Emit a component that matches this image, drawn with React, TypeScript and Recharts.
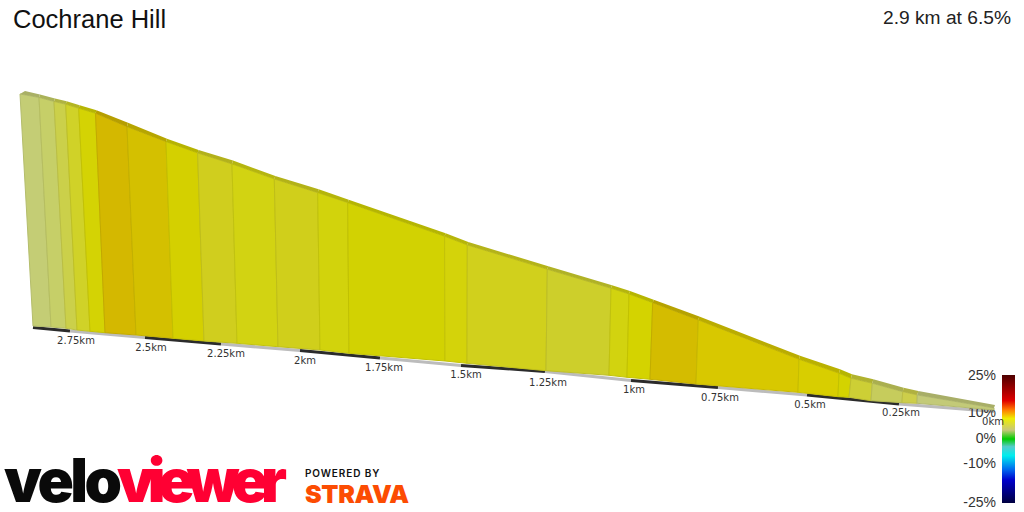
import { ScatterChart, Scatter, XAxis, YAxis, ReferenceArea } from 'recharts';

// profile stations, from the summit (left) down to the start (right)
const baseAcross = [33, 51, 66, 77, 90, 105, 136, 173, 204, 237, 278, 320, 349, 445, 467, 546, 609, 627, 650, 696, 798, 838, 849, 871, 902, 917, 994];
const baseDrop = [326, 327, 328.3, 330, 331.3, 332.7, 335, 338.3, 341, 343.3, 346.7, 350, 353.3, 361, 363.3, 370.7, 375.3, 377.3, 379.3, 384, 392.3, 396.7, 397.3, 400.7, 402.7, 403.3, 410];
const topAcross = [20, 39, 54, 65.7, 78.7, 95.5, 127, 166, 197.6, 232, 274.3, 317.7, 347.7, 444.6, 467.3, 547.3, 611, 629, 652.7, 698.3, 799, 839, 851, 872.3, 902.7, 917.3, 994];
const topDrop = [94, 97.5, 101.5, 104.3, 108.3, 113.3, 126.7, 141.7, 153, 164, 179, 192.7, 202.7, 236.3, 245, 269.3, 288.3, 294, 302.7, 320, 359.3, 373.3, 378.3, 383.3, 391.7, 395, 408];
const roofLift = [3, 3, 3, 3, 3, 3, 4, 3, 3, 3.5, 3, 3.5, 3, 3, 3, 3, 3, 3, 3, 3.5, 3.5, 4, 4, 4, 4, 4, 3];

const gradeColors = [
  '#c4cd75', '#c6cf68', '#cbd04a', '#d0d228', '#d4d304', '#d4b800', '#d4c000', '#d4d000', '#d0ce1e',
  '#d2d312', '#d0cf1b', '#d2d30c', '#d2d202', '#d4d30a', '#d1d01c', '#cdcf2b', '#d2d30f', '#d4d300',
  '#d4bc00', '#d8c800', '#d8ce00', '#d4d300', '#cdcf35', '#c6cc5c', '#cdce4a', '#c3ca78',
];

// road strip with a mark every 250 m
const roadAcross = [33, 70, 145, 221, 300, 380, 461, 545, 631, 718, 807, 899, 994];
const roadDrop = [327.5, 331, 337.5, 344, 350.5, 358, 365.5, 371.5, 380.5, 387.5, 395, 404, 411.5];

const kmLabels = ['2.75km', '2.5km', '2.25km', '2km', '1.75km', '1.5km', '1.25km', '1km', '0.75km', '0.5km', '0.25km', '0km'];
const kmLabelAcross = [76, 151, 226, 305, 384, 466, 548, 634, 720, 810, 901, 993];
const kmLabelDrop = [340, 347, 353, 360, 367, 374, 382, 389, 397, 404, 412, 421];

const scaleLabels = ['25%', '10%', '0%', '-10%', '-25%'];
const scaleDrop = [375, 412, 438, 463, 502];
const scaleStops = [
  [0, '#4d0000'], [0.2, '#e00000'], [0.27, '#ff7700'], [0.34, '#eeee00'], [0.43, '#c8c878'], [0.5, '#00cc00'],
  [0.56, '#55cccc'], [0.63, '#00eeee'], [0.74, '#0066ee'], [0.82, '#0000cc'], [1, '#000040'],
] as const;

const darken = (hex: string, k: number) => {
  const n = parseInt(hex.slice(1), 16);
  const c = [n >> 16, (n >> 8) & 255, n & 255].map((v) => Math.round(v * k));
  return `rgb(${c.join(',')})`;
};

const segments = gradeColors.map((fill, i) => ({
  fill,
  wall: [
    { x: baseAcross[i], y: baseDrop[i] },
    { x: topAcross[i], y: topDrop[i] },
    { x: topAcross[i + 1], y: topDrop[i + 1] },
    { x: baseAcross[i + 1], y: baseDrop[i + 1] },
  ],
  roof: [
    { x: topAcross[i], y: topDrop[i] },
    { x: topAcross[i] + (i === 0 ? 5 : 1), y: topDrop[i] - roofLift[i] },
    { x: topAcross[i + 1] + 1, y: topDrop[i + 1] - roofLift[i + 1] },
    { x: topAcross[i + 1], y: topDrop[i + 1] },
  ],
}));

const roadParts = roadAcross.slice(1).map((x, i) => ({
  color: i % 2 === 0 ? '#2b2b2b' : '#bcbcbc',
  points: [
    { x: roadAcross[i], y: roadDrop[i] },
    { x, y: roadDrop[i + 1] },
  ],
}));

const kmPoints = kmLabels.map((label, i) => ({ x: kmLabelAcross[i], y: kmLabelDrop[i], label }));
const scalePoints = scaleLabels.map((label, i) => ({ x: 996, y: scaleDrop[i], label }));

const noDot = () => <g />;

const KmText = (p: any) => (
  <text x={p.cx} y={p.cy} textAnchor="middle" dominantBaseline="central" fontFamily="DejaVu Sans" fontSize={10} fill="#333">
    {p.payload.label}
  </text>
);

const ScaleText = (p: any) => (
  <text x={p.cx} y={p.cy} textAnchor="end" dominantBaseline="central" fontFamily="Liberation Sans" fontSize={14} fill="#333">
    {p.payload.label}
  </text>
);

export default function App() {
  return (
    <div style={{ position: 'absolute', left: 0, top: 0, width: 1024, height: 512 }}>
      <ScatterChart width={1024} height={512} margin={{ top: 0, right: 0, bottom: 0, left: 0 }}>
        <defs>
          <linearGradient id="gradeScale" x1="0" y1="0" x2="0" y2="1">
            {scaleStops.map(([offset, color]) => (
              <stop key={offset} offset={offset} stopColor={color} />
            ))}
          </linearGradient>
        </defs>
        <XAxis type="number" dataKey="x" domain={[0, 1024]} hide />
        <YAxis type="number" dataKey="y" domain={[0, 512]} reversed hide />

        {roadParts.map((part, i) => (
          <Scatter
            key={`road-${i}`}
            data={part.points}
            shape={noDot}
            line={{ stroke: part.color, strokeWidth: 3 }}
            isAnimationActive={false}
          />
        ))}
        <Scatter data={scalePoints} shape={ScaleText} isAnimationActive={false} />
        <Scatter data={kmPoints} shape={KmText} isAnimationActive={false} />
        {segments.map((seg, i) => (
          <Scatter
            key={`wall-${i}`}
            data={seg.wall}
            shape={noDot}
            lineJointType="linearClosed"
            line={{ fill: seg.fill, stroke: darken(seg.fill, 0.92), strokeWidth: 1 }}
            isAnimationActive={false}
          />
        ))}
        {segments.map((seg, i) => (
          <Scatter
            key={`roof-${i}`}
            data={seg.roof}
            shape={noDot}
            lineJointType="linearClosed"
            line={{ fill: darken(seg.fill, 0.86), stroke: 'none' }}
            isAnimationActive={false}
          />
        ))}
        <ReferenceArea x1={1002} x2={1015} y1={375} y2={503} fill="url(#gradeScale)" fillOpacity={1} stroke="none" />

        <text x={13} y={28} fontFamily="Liberation Sans" fontSize={25.5} fill="#111">Cochrane Hill</text>
        <text x={1011} y={24} textAnchor="end" fontFamily="Liberation Sans" fontSize={19.2} fill="#222">2.9 km at 6.5%</text>

        <text x={4} y={502} fontFamily="Inter" fontWeight={900} fontSize={60} fill="#0a0a0a" letterSpacing={-3.5}>velo</text>
        <text x={117} y={502} fontFamily="Inter" fontWeight={900} fontSize={60} fill="#ff0033" letterSpacing={-7.2}>viewer</text>
        <text x={305} y={477} fontFamily="Inter" fontWeight={600} fontSize={10} fill="#111" letterSpacing={0.9}>POWERED BY</text>
        <text x={305} y={503} fontFamily="Inter" fontWeight={900} fontSize={25} fill="#fc4c02" letterSpacing={-0.3}>STRAVA</text>
      </ScatterChart>
    </div>
  );
}
